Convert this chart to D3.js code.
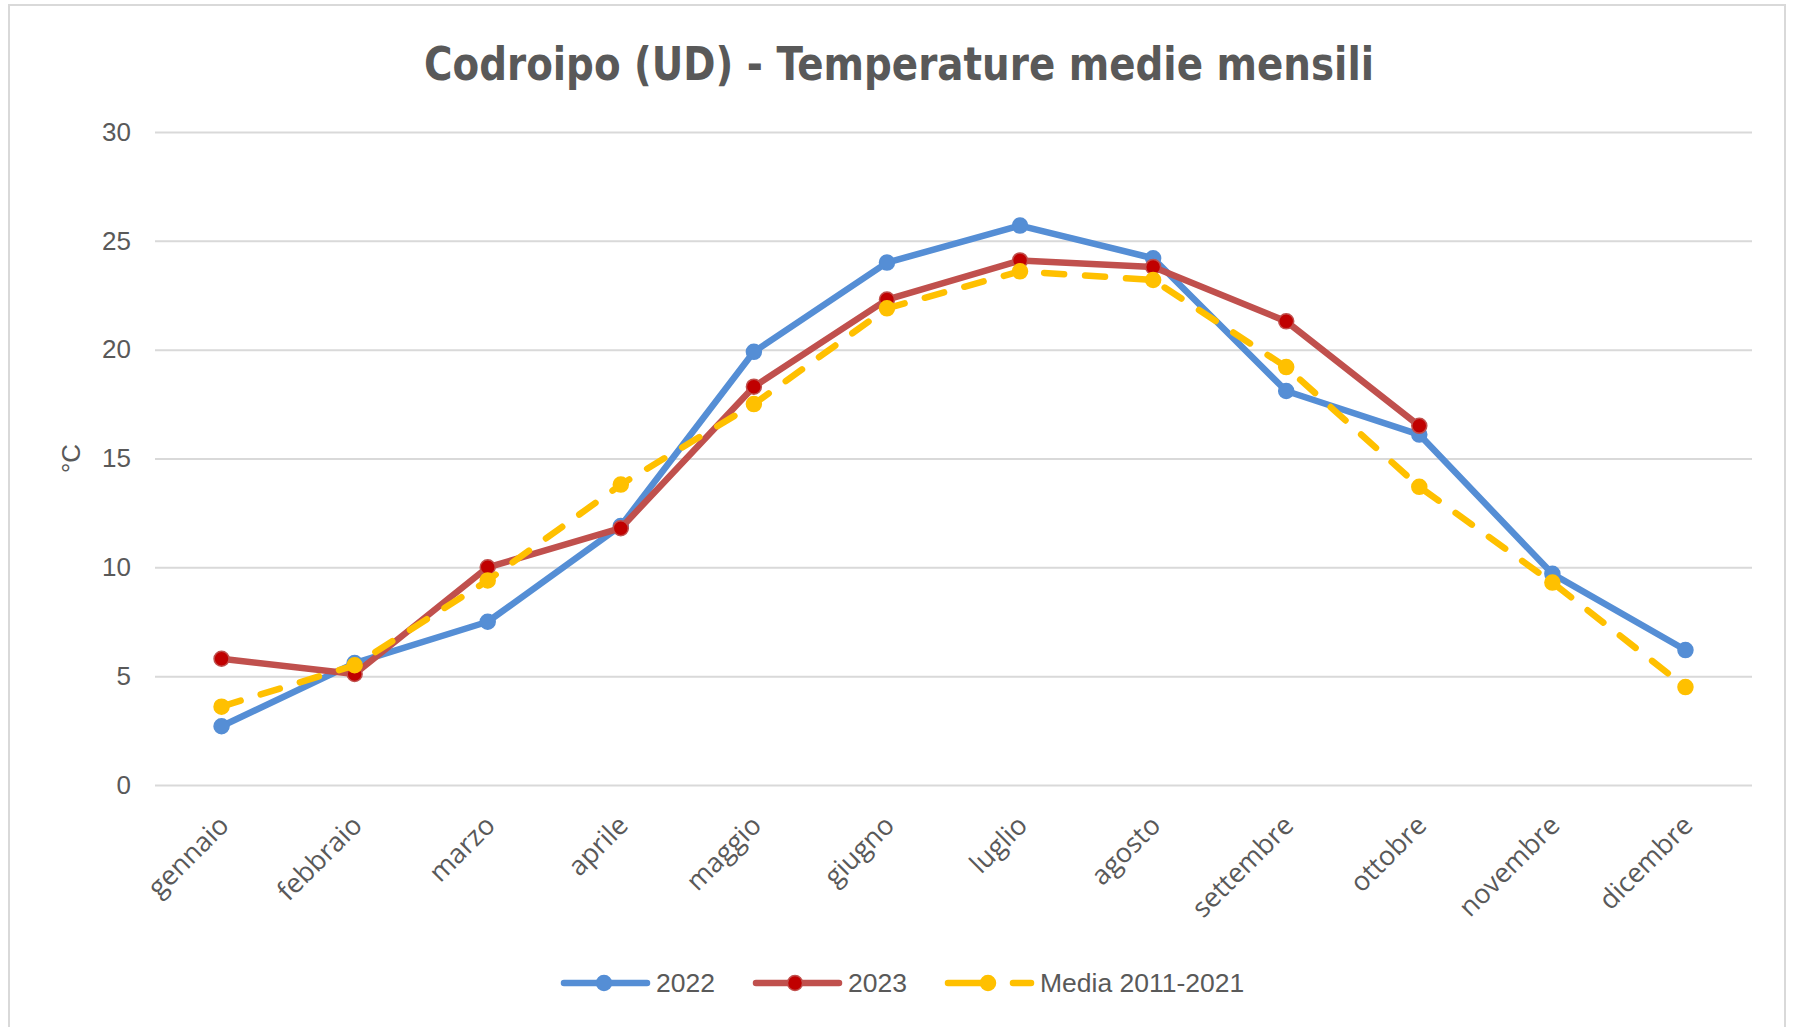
<!DOCTYPE html>
<html>
<head>
<meta charset="utf-8">
<script src="https://cdn.jsdelivr.net/npm/d3@7"></script>
<style>
  html, body { margin: 0; padding: 0; background: #fff; }
  svg { display: block; }
</style>
</head>
<body>
<svg id="chart" width="1797" height="1027"></svg>
<script>
const months = ["gennaio","febbraio","marzo","aprile","maggio","giugno","luglio","agosto","settembre","ottobre","novembre","dicembre"];
const s2022 = [2.7, 5.6, 7.5, 11.9, 19.9, 24.0, 25.7, 24.2, 18.1, 16.1, 9.7, 6.2];
const s2023 = [5.8, 5.1, 10.0, 11.8, 18.3, 22.3, 24.1, 23.8, 21.3, 16.5, null, null];
const sMedia = [3.6, 5.5, 9.4, 13.8, 17.5, 21.9, 23.6, 23.2, 19.2, 13.7, 9.3, 4.5];
const yTicks = [0, 5, 10, 15, 20, 25, 30];
const seriesNames = ["2022", "2023", "Media 2011-2021"];
const titleText = "Codroipo (UD) - Temperature medie mensili";
const yTitle = "°C";

const svg = d3.select("#chart");
const textColor = "#595959";

// border
svg.append("rect").attr("x", 9).attr("y", 5).attr("width", 1776).attr("height", 1040)
  .attr("fill", "#fff").attr("stroke", "#D9D9D9").attr("stroke-width", 2);

const plot = {left: 155, right: 1752, top: 132, bottom: 785};

const x = d3.scaleBand().domain(months).range([plot.left, plot.right]).padding(0);
const cx = m => x(m) + x.bandwidth() / 2;
const y = d3.scaleLinear().domain([0, 30]).range([plot.bottom, plot.top]);

// gridlines + y axis
const yAxis = d3.axisLeft(y).tickValues(yTicks).tickSize(-(plot.right - plot.left)).tickPadding(24);
const gy = svg.append("g").attr("transform", `translate(${plot.left},0)`).call(yAxis);
gy.select(".domain").remove();
gy.selectAll(".tick line").attr("stroke", "#D9D9D9").attr("stroke-width", 2);
gy.selectAll(".tick text").attr("fill", textColor)
  .style("font-family", "'Liberation Sans', Arial, sans-serif").style("font-size", "26px");

// x axis labels
const xAxis = d3.axisBottom(x).tickSize(0).tickPadding(0);
const gx = svg.append("g").attr("transform", `translate(0,${plot.bottom})`).call(xAxis);
gx.select(".domain").remove();
gx.selectAll(".tick text")
  .attr("fill", textColor)
  .style("font-family", "'Open Sans', sans-serif").style("font-size", "27px")
  .attr("text-anchor", "end")
  .attr("dy", "0")
  .attr("y", 0)
  .attr("transform", "translate(9,42) rotate(-45)");

// y title
svg.append("text")
  .attr("transform", `translate(80,${(plot.top + plot.bottom) / 2}) rotate(-90)`)
  .attr("text-anchor", "middle")
  .attr("fill", textColor)
  .style("font-family", "'Liberation Sans', Arial, sans-serif").style("font-size", "26px")
  .text(yTitle);

// title
svg.append("text")
  .attr("x", 899).attr("y", 80)
  .attr("text-anchor", "middle")
  .attr("fill", textColor)
  .attr("textLength", 950).attr("lengthAdjust", "spacingAndGlyphs")
  .style("font-family", "'DejaVu Sans Condensed', 'DejaVu Sans', sans-serif")
  .style("font-weight", "bold").style("font-size", "47px")
  .text(titleText);

const styles = [
  {line: "#558ED5", fill: "#558ED5", stroke: "#558ED5", dash: null},
  {line: "#C0504D", fill: "#C00000", stroke: "#C0504D", dash: null},
  {line: "#FFC000", fill: "#FFC000", stroke: "#FFC000", dash: "20 21"}
];
const allSeries = [s2022, s2023, sMedia];

const lineGen = d3.line()
  .defined(d => d.v !== null)
  .x(d => cx(d.m)).y(d => y(d.v));

allSeries.forEach((s, i) => {
  const data = months.map((m, j) => ({m, v: s[j]}));
  const st = styles[i];
  const g = svg.append("g");
  g.append("path").datum(data)
    .attr("d", lineGen)
    .attr("fill", "none")
    .attr("stroke", st.line)
    .attr("stroke-width", 6.5)
    .attr("stroke-linejoin", "round")
    .attr("stroke-linecap", "round")
    .attr("stroke-dasharray", st.dash);
  g.selectAll("circle").data(data.filter(d => d.v !== null)).join("circle")
    .attr("cx", d => cx(d.m)).attr("cy", d => y(d.v))
    .attr("r", 7.5)
    .attr("fill", st.fill)
    .attr("stroke", st.stroke).attr("stroke-width", 1.5);
});

// legend
const legendY = 983;
const legendItems = [
  {x0: 564, x1: 647, mx: 604, tx: 656},
  {x0: 756, x1: 839, mx: 795, tx: 848},
  {x0: 948, x1: 1031, mx: 988, tx: 1040}
];
const lg = svg.append("g");
legendItems.forEach((it, i) => {
  const st = styles[i];
  if (st.dash) {
    lg.append("line").attr("x1", it.x0).attr("x2", it.mx).attr("y1", legendY).attr("y2", legendY)
      .attr("stroke", st.line).attr("stroke-width", 6.5).attr("stroke-linecap", "round");
    lg.append("line").attr("x1", it.x1 - 18).attr("x2", it.x1).attr("y1", legendY).attr("y2", legendY)
      .attr("stroke", st.line).attr("stroke-width", 6.5).attr("stroke-linecap", "round");
  } else {
    lg.append("line").attr("x1", it.x0).attr("x2", it.x1).attr("y1", legendY).attr("y2", legendY)
      .attr("stroke", st.line).attr("stroke-width", 6.5).attr("stroke-linecap", "round");
  }
  lg.append("circle").attr("cx", it.mx).attr("cy", legendY).attr("r", 7.5)
    .attr("fill", st.fill).attr("stroke", st.stroke).attr("stroke-width", 1.5);
  lg.append("text").attr("x", it.tx).attr("y", legendY).attr("dy", "0.35em")
    .attr("fill", textColor)
    .style("font-family", "'Liberation Sans', Arial, sans-serif").style("font-size", "26.5px")
    .text(seriesNames[i]);
});
</script>
</body>
</html>
